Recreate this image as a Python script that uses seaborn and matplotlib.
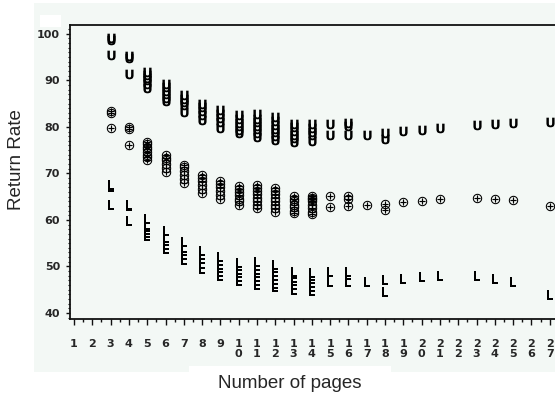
import matplotlib

matplotlib.use("Agg")
import matplotlib.pyplot as plt
import pandas as pd
import seaborn as sns
from matplotlib.patches import Rectangle
from matplotlib.ticker import FixedLocator, MultipleLocator

sns.set_style("ticks")
plt.rcParams["font.family"] = ["DejaVu Sans"]

W, H = 555, 398
BG = "#F3F8F5"

# Return rate by questionnaire length: U = upper limit, (+) = estimate, L = lower limit
pages = [3, 4, 5, 6, 7, 8, 9, 10, 11, 12, 13, 14, 15, 16, 17, 18, 19, 20, 21, 23, 24, 25, 27]

upper = [
    [99.2, 98.7, 95.5],
    [95.3, 94.9, 91.4],
    [91.9, 91.2, 90.6, 90.0, 89.3, 88.3],
    [89.3, 88.6, 87.8, 87.0, 86.3, 85.5],
    [86.9, 86.0, 85.4, 84.6, 83.1],
    [85.0, 84.2, 83.5, 82.6, 81.4],
    [83.6, 82.8, 81.9, 81.0, 79.8],
    [82.5, 81.6, 80.8, 80.1, 79.4, 78.6],
    [82.7, 81.8, 81.0, 80.2, 79.5, 78.7, 77.9],
    [82.2, 81.3, 80.4, 79.6, 78.8, 78.0, 77.2],
    [80.7, 79.9, 79.1, 78.3, 77.6, 76.8],
    [80.6, 79.8, 79.0, 78.2, 77.0],
    [80.6, 78.3],
    [80.8, 80.2, 78.3],
    [78.3],
    [78.6, 77.5],
    [79.1],
    [79.3],
    [79.8],
    [80.3],
    [80.6],
    [80.8],
    [81.0],
]

estimate = [
    [83.4, 83.0, 79.7],
    [79.9, 79.5, 76.2],
    [76.8, 76.3, 75.7, 75.2, 74.6, 74.0, 73.5, 72.9],
    [74.0, 73.4, 72.8, 72.0, 71.2, 70.2],
    [71.8, 71.3, 70.6, 69.7, 68.8, 67.9],
    [69.7, 69.0, 68.3, 67.4, 66.6, 65.8],
    [68.3, 67.7, 67.0, 66.2, 65.3, 64.4],
    [67.2, 66.6, 66.0, 65.3, 64.6, 64.0, 63.3],
    [67.5, 66.9, 66.2, 65.5, 64.8, 64.0, 63.3, 62.5],
    [66.8, 66.2, 65.5, 64.8, 64.0, 63.3, 62.5, 61.7],
    [65.2, 64.6, 64.0, 63.3, 62.7, 62.0, 61.4],
    [65.2, 64.8, 64.4, 64.0, 63.3, 62.5, 61.8, 61.2],
    [65.1, 62.8],
    [65.1, 64.5, 62.9],
    [63.2],
    [63.4, 62.2],
    [63.9],
    [64.1],
    [64.5],
    [64.7],
    [64.5],
    [64.3],
    [63.0],
]

lower = [
    [67.4, 67.0, 63.2],
    [63.3, 62.9, 59.7],
    [60.3, 59.0, 58.4, 57.8, 57.2, 56.5],
    [57.6, 56.2, 55.5, 54.6, 53.7],
    [55.3, 54.0, 53.3, 52.4, 51.4],
    [53.3, 52.5, 51.5, 50.5, 49.4],
    [52.0, 51.2, 50.4, 49.6, 48.8, 47.9],
    [50.8, 50.0, 49.2, 48.5, 47.7, 46.9],
    [51.0, 50.1, 49.3, 48.5, 47.7, 46.9, 46.1],
    [50.4, 49.6, 48.8, 48.0, 47.1, 46.3, 45.5],
    [48.9, 48.3, 47.6, 46.8, 46.0, 45.0],
    [48.6, 48.0, 47.3, 46.5, 45.6, 44.7],
    [48.9, 46.7],
    [48.9, 48.2, 46.7],
    [46.7],
    [47.1, 44.6],
    [47.4],
    [47.7],
    [47.9],
    [47.9],
    [47.4],
    [46.7],
    [43.9],
]

rows = []
for kind, series in [("U", upper), ("E", estimate), ("L", lower)]:
    for p, vals in zip(pages, series):
        for v in vals:
            rows.append({"pages": p, "rate": v, "kind": kind})
df = pd.DataFrame(rows)

fig = plt.figure(figsize=(W / 100, H / 100), dpi=100)
fig.patch.set_facecolor("white")


def px_rect(x0, y0, x1, y1, color):
    fig.patches.append(
        Rectangle((x0 / W, 1 - y1 / H), (x1 - x0) / W, (y1 - y0) / H,
                  transform=fig.transFigure, color=color, zorder=-5, lw=0)
    )


px_rect(34, 3, 555, 372, BG)
px_rect(40, 15, 61, 27, "white")
px_rect(189, 366, 391, 372, "white")

ax = fig.add_axes([70 / W, 1 - 319 / H, 498 / W, 294 / H])
ax.set_facecolor(BG)

markers = {"U": r"$\mathbf{U}$", "E": r"$\oplus$", "L": r"$\mathbf{L}$"}
sizes = {"U": 48, "E": 46, "L": 48}
for kind in ["U", "E", "L"]:
    sns.scatterplot(
        data=df[df["kind"] == kind], x="pages", y="rate",
        marker=markers[kind], s=sizes[kind], color="black",
        linewidth=0, ax=ax, legend=False,
    )

ax.set_xlim(0.78, 28)
ax.set_ylim(38.7, 101.9)

ax.set_xticks(range(1, 28), labels=["\n".join(str(i)) for i in range(1, 28)])
ax.xaxis.set_minor_locator(FixedLocator([i + 0.5 for i in range(1, 28)]))
ax.set_yticks(range(40, 101, 10))
ax.yaxis.set_minor_locator(MultipleLocator(1))

for lab in ax.get_xticklabels() + ax.get_yticklabels():
    lab.set_fontweight("bold")
    lab.set_fontsize(8)
for lab in ax.get_xticklabels():
    lab.set_linespacing(0.95)

ax.tick_params(axis="x", which="major", length=4.3, width=1, pad=10.4, color="#111111")
ax.tick_params(axis="x", which="minor", length=2.4, width=1, color="#111111")
ax.tick_params(axis="y", which="major", length=2.9, width=1, pad=4.3, color="#111111")
ax.tick_params(axis="y", which="minor", length=1.5, width=0.8, color="#111111")

for side in ["left", "top", "bottom"]:
    ax.spines[side].set_visible(True)
    ax.spines[side].set_linewidth(1.3)
    ax.spines[side].set_color("#111111")
ax.spines["right"].set_visible(False)

ax.set_xlabel("Number of pages", family=["Liberation Sans", "DejaVu Sans"], fontsize=13.5)
ax.xaxis.set_label_coords((290 - 70) / 498, (319 - 383) / 294)
ax.xaxis.label.set_va("center")
ax.set_ylabel("Return Rate", family=["Liberation Sans", "DejaVu Sans"], fontsize=13.5)
ax.yaxis.set_label_coords((17 - 70) / 498, (319 - 160) / 294)
ax.yaxis.label.set_va("center")

fig.savefig("out.png", dpi=100)
